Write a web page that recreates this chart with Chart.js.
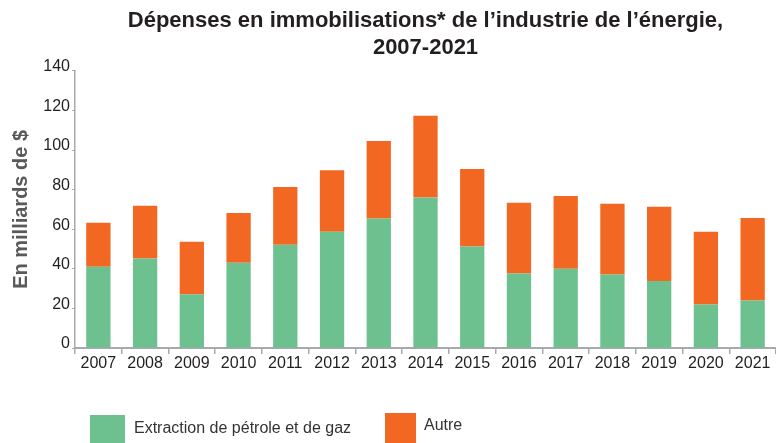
<!DOCTYPE html>
<html>
<head>
<meta charset="utf-8">
<script src="https://cdn.jsdelivr.net/npm/chart.js@4"></script>
<style>
  body { margin: 0; background: #fff; }
  #wrap { position: relative; width: 776px; height: 443px; overflow: hidden; }
  #chart { position: absolute; left: 0; top: 0; }
  .legend { position: absolute; left: 0; top: 0; width: 776px; height: 443px;
            font: 16px "Liberation Sans", Arial, sans-serif; color: #333; }
  .legend span.box { position: absolute; display: block; }
  .legend span.lbl { position: absolute; white-space: nowrap; }
</style>
</head>
<body>
<div id="wrap">
  <canvas id="chart" width="776" height="443"></canvas>
  <div class="legend">
    <span class="box" style="left:90px;top:415px;width:35px;height:28px;background:#6cc18f"></span>
    <span class="lbl" style="left:134px;top:419px">Extraction de pétrole et de gaz</span>
    <span class="box" style="left:385px;top:413px;width:31px;height:30px;background:#f26722"></span>
    <span class="lbl" style="left:424px;top:416px">Autre</span>
  </div>
</div>
<script>
    var years = ['2007', '2008', '2009', '2010', '2011', '2012', '2013', '2014',
                 '2015', '2016', '2017', '2018', '2019', '2020', '2021'];
    // milliards de $
    var extraction = [41.0, 45.2, 27.1, 43.0, 52.1, 58.7, 65.4, 76.0,
                      51.3, 37.6, 40.0, 37.1, 33.9, 22.0, 24.0];
    var autre = [22.2, 26.6, 26.5, 25.2, 29.2, 31.1, 39.1, 41.3,
                 39.1, 35.7, 36.8, 35.7, 37.4, 36.7, 41.7];
    var yTicks = [0, 20, 40, 60, 80, 100, 120, 140];

    var axisGrey = '#a7a9ac';
    var regular = '"Liberation Sans", Arial, sans-serif';

    var config = {
        type: 'bar',
        data: {
            labels: years,
            datasets: [{
                label: 'Extraction de pétrole et de gaz',
                data: extraction,
                backgroundColor: '#6cc18f'
            }, {
                label: 'Autre',
                data: autre,
                backgroundColor: '#f26722'
            }]
        },
        options: {
            responsive: false,
            animation: false,
            layout: { padding: 0 },
            datasets: {
                bar: { barPercentage: 0.52, categoryPercentage: 1 }
            },
            plugins: {
                legend: { display: false },
                tooltip: { enabled: false },
                title: {
                    display: true,
                    fullSize: false,
                    text: ['Dépenses en immobilisations* de l\u2019industrie de l\u2019énergie,', '2007-2021'],
                    color: '#231f20',
                    font: { family: regular, size: 22, weight: 'bold', lineHeight: 1.2 },
                    padding: { top: 8, bottom: 10 }
                }
            },
            scales: {
                x: {
                    stacked: true,
                    border: { color: axisGrey, width: 2 },
                    grid: { offset: true, drawOnChartArea: false, tickLength: 6, color: axisGrey, lineWidth: 1.5 },
                    ticks: { color: '#231f20', padding: 0, font: { family: regular, size: 16 } },
                    afterFit: function (scale) { scale.height = 95; }
                },
                y: {
                    stacked: true,
                    min: 0,
                    max: 140,
                    afterBuildTicks: function (scale) {
                        scale.ticks = yTicks.map(function (v) { return { value: v }; });
                    },
                    border: { color: axisGrey, width: 1.5 },
                    grid: { drawOnChartArea: false, tickLength: 3, color: axisGrey },
                    ticks: { color: '#231f20', padding: 2, labelOffset: -4, font: { family: regular, size: 16 } },
                    title: {
                        display: true,
                        text: 'En milliards de $',
                        color: '#58595b',
                        font: { family: regular, size: 20, weight: 'bold' },
                        padding: { top: 9, bottom: 0 }
                    },
                    afterFit: function (scale) { scale.width = 75; }
                }
            }
        }
    };

    new Chart(document.getElementById('chart').getContext('2d'), config);
</script>
</body>
</html>
